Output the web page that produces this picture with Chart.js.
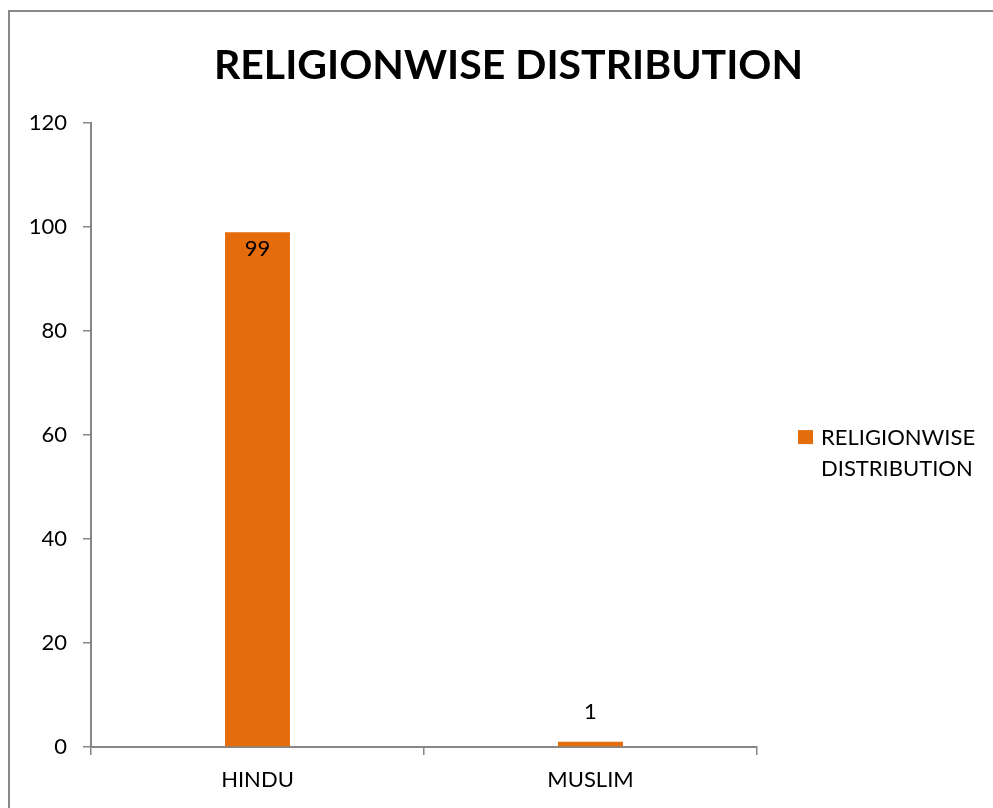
<!DOCTYPE html>
<html>
<head>
<meta charset="utf-8">
<script src="https://cdn.jsdelivr.net/npm/chart.js@4.4.0/dist/chart.umd.min.js"></script>
<style>
  html, body { margin: 0; padding: 0; background: #fff; overflow: hidden; }
  #frame { position: absolute; left: 8px; top: 10px; width: 1100px; height: 900px; border-left: 2px solid #888; border-top: 2px solid #888; }
  #wrap { position: absolute; left: 0; top: 0; width: 993px; height: 808px; }
</style>
</head>
<body>
<div id="frame"></div>
<div id="wrap"><canvas id="myChart" width="993" height="808"></canvas></div>
<script>
// data
var categories = ['HINDU', 'MUSLIM'];
var seriesName = 'RELIGIONWISE DISTRIBUTION';
var seriesValues = [99, 1];
var yTicks = [0, 20, 40, 60, 80, 100, 120];
var legendLines = ['RELIGIONWISE', 'DISTRIBUTION'];

var orange = '#E46C0A';
var axisGray = '#868686';
var font = 'Lato';

//labels on the bars
var barLabels = {
	id: 'barLabels',
	afterDatasetsDraw: function(chart) {
		var ctx = chart.ctx;
		var meta = chart.getDatasetMeta(0);
		ctx.save();
		ctx.font = '22px ' + font;
		ctx.fillStyle = '#000';
		ctx.textAlign = 'center';
		ctx.textBaseline = 'middle';
		meta.data.forEach(function(bar, i) {
			var h = bar.base - bar.y;
			var y = h > 40 ? bar.y + 17 : bar.y - 30;
			ctx.fillText(String(seriesValues[i]), bar.x, y);
		});
		ctx.restore();
	}
};

//legend on the right, two lines
var sideLegend = {
	id: 'sideLegend',
	afterDraw: function(chart) {
		var ctx = chart.ctx;
		var area = chart.chartArea;
		var x = area.right + 41;
		var y = (area.top + area.bottom) / 2;
		ctx.save();
		ctx.fillStyle = chart.data.datasets[0].backgroundColor;
		ctx.fillRect(x, y - 5, 15, 14);
		ctx.font = '22px ' + font;
		ctx.fillStyle = '#000';
		ctx.textAlign = 'left';
		ctx.textBaseline = 'middle';
		legendLines.forEach(function(t, i) {
			ctx.fillText(t, x + 23, y + 3 + i * 31);
		});
		ctx.restore();
	}
};

var myChart = new Chart(document.getElementById('myChart').getContext('2d'), {
	type: 'bar',
	data: {
		labels: categories,
		datasets: [{
			label: seriesName,
			data: seriesValues,
			backgroundColor: orange,
			barPercentage: 0.195,
			categoryPercentage: 1
		}]
	},
	options: {
		responsive: false,
		animation: false,
		layout: { padding: { left: 24, right: 0, top: 0, bottom: 0 } },
		plugins: {
			legend: { display: false },
			tooltip: { enabled: false },
			title: {
				display: true,
				text: 'RELIGIONWISE DISTRIBUTION',
				color: '#000',
				font: { family: font, size: 41, weight: 'bold' },
				padding: { top: 41, bottom: 33 }
			}
		},
		scales: {
			x: {
				grid: { offset: true, drawOnChartArea: false, tickLength: 8, color: axisGray, lineWidth: 1.5 },
				border: { color: axisGray, width: 2 },
				ticks: { color: '#000', font: { family: font, size: 22 }, padding: 12 },
				afterFit: function(s) { s.height = 61; }
			},
			y: {
				min: 0,
				max: 120,
				afterBuildTicks: function(s) { s.ticks = yTicks.map(function(v) { return { value: v }; }); },
				grid: { drawOnChartArea: false, tickLength: 8, color: axisGray, lineWidth: 1.5 },
				border: { color: axisGray, width: 2 },
				ticks: { color: '#000', font: { family: font, size: 22 }, padding: 16 },
				afterFit: function(s) { s.width = 67; }
			},
			//empty axis that keeps room for the legend
			side: {
				position: 'right',
				display: true,
				grid: { display: false },
				border: { display: false },
				ticks: { display: false },
				afterFit: function(s) { s.width = 236; }
			}
		}
	},
	plugins: [barLabels, sideLegend]
});
</script>
</body>
</html>
